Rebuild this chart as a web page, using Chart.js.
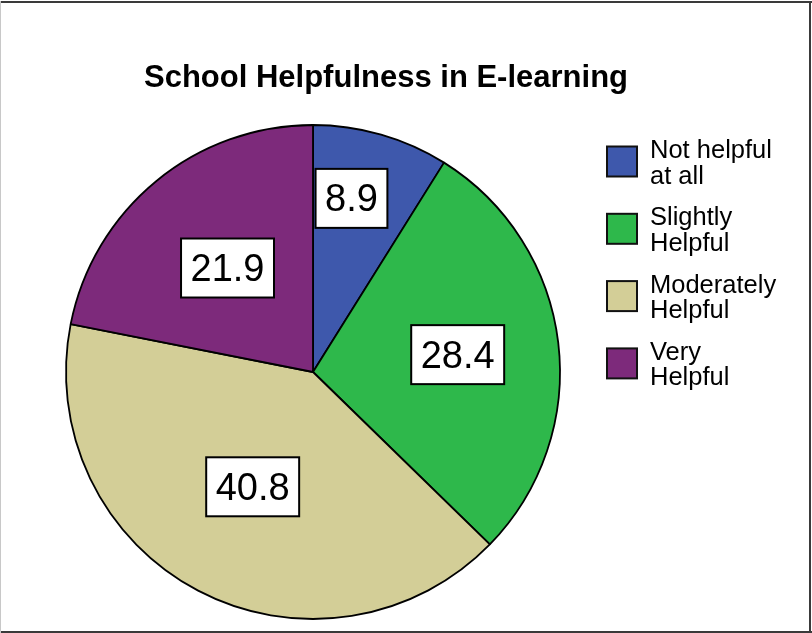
<!DOCTYPE html>
<html>
<head>
<meta charset="utf-8">
<title>School Helpfulness in E-learning</title>
<script src="https://cdn.jsdelivr.net/npm/chart.js@4.4.1/dist/chart.umd.min.js"></script>
<style>
  html, body { margin: 0; padding: 0; background: #fff; }
  canvas { display: block; }
</style>
</head>
<body>
<canvas id="pie" width="812" height="633"></canvas>
<script>
// survey answers, percent of respondents
const categories = [
  ['Not helpful', 'at all'],
  ['Slightly', 'Helpful'],
  ['Moderately', 'Helpful'],
  ['Very', 'Helpful'],
];
const percents = [8.9, 28.4, 40.8, 21.9];
const colors = ['#3e58ac', '#2eb84b', '#d3ce97', '#7d2a7b'];

const FONT = '"Liberation Sans", Arial, Helvetica, sans-serif';

// title, boxed value labels, legend and frame are painted by hand
const decorations = {
  id: 'decorations',
  beforeDraw(chart) {
    const ctx = chart.ctx;
    ctx.save();
    ctx.fillStyle = '#fff';
    ctx.fillRect(0, 0, chart.width, chart.height);
    ctx.restore();
  },
  afterDraw(chart, args, opts) {
    const ctx = chart.ctx;
    ctx.save();

    // title
    ctx.fillStyle = '#000';
    ctx.font = 'bold 31px ' + FONT;
    ctx.textAlign = 'center';
    ctx.textBaseline = 'alphabetic';
    ctx.fillText('School Helpfulness in E-learning', 386, 87);

    // value boxes inside slices
    const meta = chart.getDatasetMeta(0);
    ctx.font = '38px ' + FONT;
    meta.data.forEach((arc, i) => {
      const p = arc.getProps(['x', 'y', 'startAngle', 'endAngle', 'outerRadius'], true);
      const a = p.startAngle + (p.endAngle - p.startAngle) * opts.along[i];
      const r = p.outerRadius * opts.out[i];
      const cx = p.x + Math.cos(a) * r;
      const cy = p.y + Math.sin(a) * r;
      const txt = percents[i].toFixed(1);
      const w = ctx.measureText(txt).width + 19;
      const h = 59;
      ctx.fillStyle = '#fff';
      ctx.fillRect(cx - w / 2, cy - h / 2, w, h);
      ctx.lineWidth = 2;
      ctx.strokeStyle = '#000';
      ctx.strokeRect(cx - w / 2, cy - h / 2, w, h);
      ctx.fillStyle = '#000';
      ctx.textAlign = 'center';
      ctx.fillText(txt, cx, cy + 13);
    });

    // legend
    ctx.font = '25.5px ' + FONT;
    ctx.textAlign = 'left';
    categories.forEach((lines, i) => {
      const cy = 161.5 + i * 67.3;
      ctx.fillStyle = colors[i];
      ctx.fillRect(607, cy - 15, 30, 30);
      ctx.lineWidth = 2;
      ctx.strokeStyle = '#111';
      ctx.strokeRect(607, cy - 15, 30, 30);
      ctx.fillStyle = '#000';
      lines.forEach((ln, j) => {
        ctx.fillText(ln, 650, cy - 3.5 + j * 25.5);
      });
    });

    // frame
    ctx.fillStyle = '#3a3a3a';
    ctx.fillRect(0, 1, chart.width, 2);
    ctx.fillRect(chart.width - 3, 1, 2, chart.height);
    ctx.fillRect(0, chart.height - 2, chart.width, 2);
    ctx.fillStyle = '#c8c8c8';
    ctx.fillRect(0, 1, 1, chart.height);
    ctx.restore();
  }
};

new Chart(document.getElementById('pie'), {
  type: 'pie',
  data: {
    labels: categories,
    datasets: [{
      data: percents,
      backgroundColor: colors,
      borderColor: '#000',
      borderWidth: 1.8,
    }],
  },
  options: {
    responsive: false,
    animation: false,
    events: [],
    radius: 247,
    layout: { padding: { left: 66, right: 252, top: 125, bottom: 14 } },
    plugins: {
      legend: { display: false },
      title: { display: false },
      tooltip: { enabled: false },
      decorations: {
        along: [0.39, 0.5, 0.5, 0.5],
        out: [0.72, 0.59, 0.525, 0.545],
      },
    },
  },
  plugins: [decorations],
});
</script>
</body>
</html>
